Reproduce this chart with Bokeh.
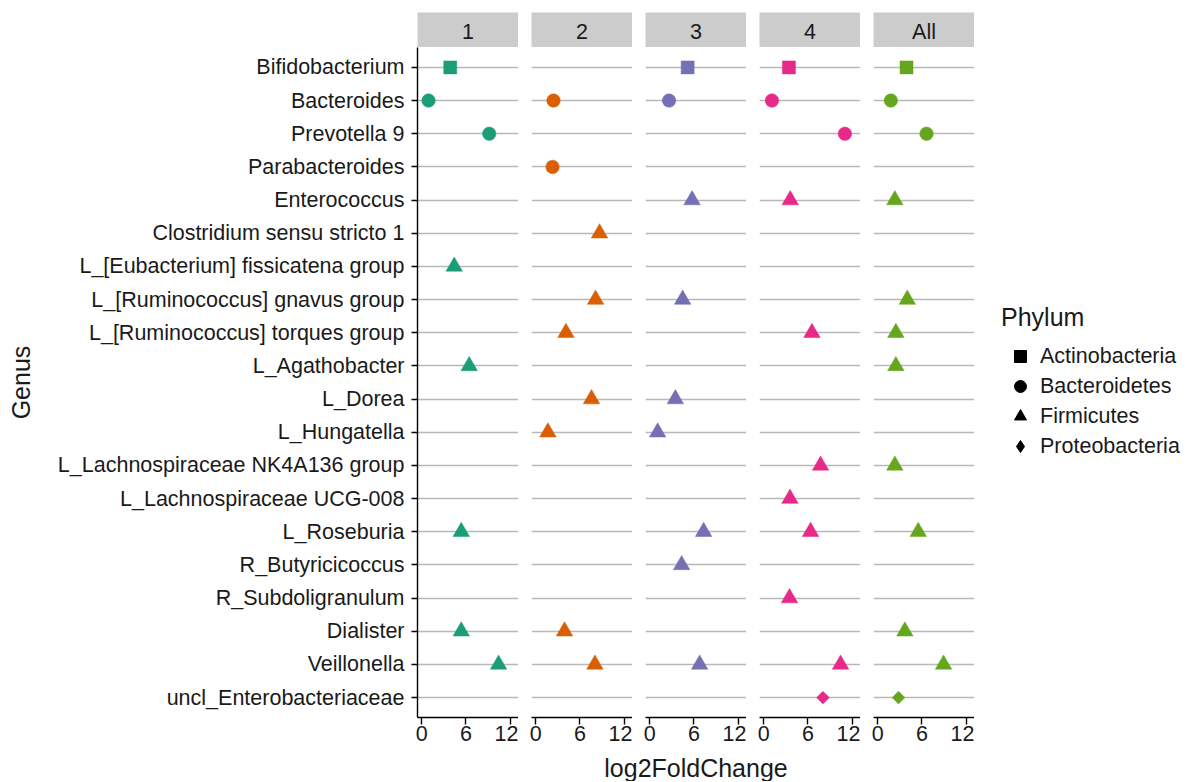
import math
from bokeh.plotting import figure
from bokeh.layouts import row, column
from bokeh.models import (FactorRange, Range1d, FixedTicker, Legend, LegendItem,
                          Label, ColumnDataSource)
from bokeh.embed import file_html
from bokeh.resources import INLINE

FONT = "Liberation Sans"
TXT = "#1A1A1A"

# ---------------- data ----------------
genera = [
    "Bifidobacterium", "Bacteroides", "Prevotella 9", "Parabacteroides",
    "Enterococcus", "Clostridium sensu stricto 1",
    "L_[Eubacterium] fissicatena group", "L_[Ruminococcus] gnavus group",
    "L_[Ruminococcus] torques group", "L_Agathobacter", "L_Dorea",
    "L_Hungatella", "L_Lachnospiraceae NK4A136 group",
    "L_Lachnospiraceae UCG-008", "L_Roseburia", "R_Butyricicoccus",
    "R_Subdoligranulum", "Dialister", "Veillonella", "uncl_Enterobacteriaceae",
]
genus_phylum = [
    "Actinobacteria", "Bacteroidetes", "Bacteroidetes", "Bacteroidetes",
    "Firmicutes", "Firmicutes", "Firmicutes", "Firmicutes", "Firmicutes",
    "Firmicutes", "Firmicutes", "Firmicutes", "Firmicutes", "Firmicutes",
    "Firmicutes", "Firmicutes", "Firmicutes", "Firmicutes", "Firmicutes",
    "Proteobacteria",
]
phyla = ["Actinobacteria", "Bacteroidetes", "Firmicutes", "Proteobacteria"]
panel_names = ["1", "2", "3", "4", "All"]
panel_colors = ["#1B9E77", "#D95F02", "#7570B3", "#E7298A", "#66A61E"]

c1_genus = ["Bifidobacterium", "Bacteroides", "Prevotella 9",
            "L_[Eubacterium] fissicatena group", "L_Agathobacter",
            "L_Roseburia", "Dialister", "Veillonella"]
c1_lfc = [3.86, 0.91, 9.16, 4.40, 6.44, 5.36, 5.36, 10.43]

c2_genus = ["Bacteroides", "Parabacteroides", "Clostridium sensu stricto 1",
            "L_[Ruminococcus] gnavus group", "L_[Ruminococcus] torques group",
            "L_Dorea", "L_Hungatella", "Dialister", "Veillonella"]
c2_lfc = [2.40, 2.27, 8.66, 8.12, 4.09, 7.57, 1.64, 3.90, 8.03]

c3_genus = ["Bifidobacterium", "Bacteroides", "Enterococcus",
            "L_[Ruminococcus] gnavus group", "L_Dorea", "L_Hungatella",
            "L_Roseburia", "R_Butyricicoccus", "Veillonella"]
c3_lfc = [5.14, 2.61, 5.74, 4.46, 3.47, 1.06, 7.31, 4.32, 6.77]

c4_genus = ["Bifidobacterium", "Bacteroides", "Prevotella 9", "Enterococcus",
            "L_[Ruminococcus] torques group", "L_Lachnospiraceae NK4A136 group",
            "L_Lachnospiraceae UCG-008", "L_Roseburia", "R_Subdoligranulum",
            "Veillonella", "uncl_Enterobacteriaceae"]
c4_lfc = [3.41, 1.10, 11.02, 3.59, 6.54, 7.71, 3.55, 6.35, 3.49, 10.43, 8.03]

all_genus = ["Bifidobacterium", "Bacteroides", "Prevotella 9", "Enterococcus",
             "L_[Ruminococcus] gnavus group", "L_[Ruminococcus] torques group",
             "L_Agathobacter", "L_Lachnospiraceae NK4A136 group", "L_Roseburia",
             "Dialister", "Veillonella", "uncl_Enterobacteriaceae"]
all_lfc = [3.90, 1.77, 6.62, 2.31, 4.00, 2.45, 2.45, 2.31, 5.49, 3.67, 8.93, 2.81]

x_ticks = [0, 6, 12]

panel_genus = [c1_genus, c2_genus, c3_genus, c4_genus, all_genus]
panel_lfc = [c1_lfc, c2_lfc, c3_lfc, c4_lfc, all_lfc]

# ---------------- styles ----------------
marker_style = {
    "Actinobacteria": dict(marker="square", size=13, angle=0.0),
    "Bacteroidetes": dict(marker="circle", size=13.5, angle=0.0),
    "Firmicutes": dict(marker="triangle", size=16.5, angle=0.0),
    "Proteobacteria": dict(marker="square", size=9, angle=math.pi / 4),
}
legend_marker = {"Actinobacteria": "square", "Bacteroidetes": "circle",
                 "Firmicutes": "triangle", "Proteobacteria": "diamond"}

phylum_lookup = dict(zip(genera, genus_phylum))

FRAME_W = 101
FRAME_H = 670
LEFT1 = 417
GAP = 13
BOTTOM = 33
STRIP_TOP = 12
STRIP_H = 35
GRID = "#B8B8B8"

y_range = FactorRange(factors=list(reversed(genera)), range_padding=0.1,
                      range_padding_units="absolute")

strips, panels = [], []
for i, name in enumerate(panel_names):
    bl = LEFT1 if i == 0 else GAP
    w = bl + FRAME_W

    # strip header
    s = figure(width=w, height=STRIP_TOP + STRIP_H, x_range=Range1d(0, 1),
               y_range=Range1d(0, 1), min_border_left=bl, min_border_right=0,
               min_border_top=STRIP_TOP, min_border_bottom=0,
               x_axis_location=None, y_axis_location=None,
               toolbar_location=None, output_backend="svg", title=None,
               background_fill_color="#CCCCCC", outline_line_color=None)
    s.grid.visible = False
    s.add_layout(Label(x=0.5, y=0.45, text=name, text_align="center",
                       text_baseline="middle", text_font=FONT,
                       text_font_size="21.5px", text_color=TXT))
    strips.append(s)

    # panel
    p = figure(width=w, height=FRAME_H + BOTTOM, x_range=Range1d(-0.59, 13.14),
               y_range=y_range, min_border_left=bl, min_border_right=0,
               min_border_top=0, min_border_bottom=BOTTOM,
               y_axis_location="left" if i == 0 else None,
               toolbar_location=None, output_backend="svg", title=None,
               outline_line_color=None)
    p.xgrid.visible = False
    p.ygrid.grid_line_color = GRID
    p.ygrid.grid_line_width = 1.6

    p.xaxis.ticker = FixedTicker(ticks=x_ticks)
    p.xaxis.minor_tick_line_color = None
    p.xaxis.axis_line_color = "black"
    p.xaxis.axis_line_width = 1.4
    p.xaxis.major_tick_line_color = "black"
    p.xaxis.major_tick_line_width = 1.4
    p.xaxis.major_tick_out = 7
    p.xaxis.major_tick_in = 0
    p.xaxis.major_label_standoff = 1
    p.xaxis.major_label_text_font = FONT
    p.xaxis.major_label_text_font_size = "21.5px"
    p.xaxis.major_label_text_color = TXT

    if i == 0:
        ax = p.yaxis[0]
        ax.axis_line_color = "black"
        ax.axis_line_width = 1.4
        ax.major_tick_line_color = "black"
        ax.major_tick_line_width = 1.4
        ax.major_tick_out = 6
        ax.major_tick_in = 0
        ax.major_label_standoff = 7
        ax.major_label_text_font = FONT
        ax.major_label_text_font_size = "21.5px"
        ax.major_label_text_color = TXT
        ax.axis_label = "Genus"
        ax.axis_label_text_font = FONT
        ax.axis_label_text_font_size = "25px"
        ax.axis_label_text_font_style = "normal"
        ax.axis_label_text_color = TXT
        ax.axis_label_standoff = 20

    gl, vl = panel_genus[i], panel_lfc[i]
    for ph in phyla:
        xs = [v for g, v in zip(gl, vl) if phylum_lookup[g] == ph]
        ys = [g for g in gl if phylum_lookup[g] == ph]
        if not xs:
            continue
        st = marker_style[ph]
        src = ColumnDataSource(dict(x=xs, y=ys))
        p.scatter("x", "y", source=src, marker=st["marker"], size=st["size"],
                  angle=st["angle"], fill_color=panel_colors[i],
                  line_color=panel_colors[i], line_width=0.5)
    panels.append(p)

# legend figure: proxies built from the "All" data, muted so they never show
LEG_W = 1189 - (LEFT1 + FRAME_W + 4 * (GAP + FRAME_W))
lg = figure(width=LEG_W, height=FRAME_H + BOTTOM, x_range=panels[-1].x_range,
            y_range=y_range, min_border=0, min_border_bottom=BOTTOM,
            x_axis_location=None, y_axis_location=None, toolbar_location=None,
            output_backend="svg", title=None, outline_line_color=None)
lg.grid.visible = False
items = []
for ph in phyla:
    xs = [v for g, v in zip(all_genus, all_lfc) if phylum_lookup[g] == ph]
    ys = [g for g in all_genus if phylum_lookup[g] == ph]
    r = lg.scatter("x", "y", source=ColumnDataSource(dict(x=xs, y=ys)),
                   marker=legend_marker[ph], fill_color="black",
                   line_color="black", muted_fill_alpha=0, muted_line_alpha=0)
    r.muted = True
    items.append(LegendItem(label=ph, renderers=[r]))
legend = Legend(items=items, location=(27, 256), title="Phylum",
                title_text_font=FONT, title_text_font_size="25px",
                title_text_font_style="normal", title_text_color=TXT,
                title_standoff=9,
                label_text_font=FONT, label_text_font_size="21.5px",
                label_text_color=TXT, glyph_width=38, glyph_height=30,
                label_height=30, label_standoff=1, spacing=0, padding=0,
                margin=0, border_line_color=None, background_fill_alpha=0,
                click_policy="none")
lg.add_layout(legend)

# x-axis title strip
total_w = LEFT1 + FRAME_W + 4 * (GAP + FRAME_W)
TITLE_H = 31
t = figure(width=total_w, height=TITLE_H, x_range=Range1d(0, total_w),
           y_range=Range1d(0, TITLE_H), min_border=0, x_axis_location=None,
           y_axis_location=None, toolbar_location=None, output_backend="svg",
           title=None, outline_line_color=None)
t.grid.visible = False
center3 = LEFT1 + FRAME_W + 2 * GAP + FRAME_W + FRAME_W / 2
t.add_layout(Label(x=center3, y=14, text="log2FoldChange", text_align="center",
                   text_baseline="middle", text_font=FONT,
                   text_font_size="25px", text_color=TXT))

layout = column(row(*strips), row(*panels, lg), t)

with open("out.html", "w") as f:
    f.write(file_html(layout, INLINE))
